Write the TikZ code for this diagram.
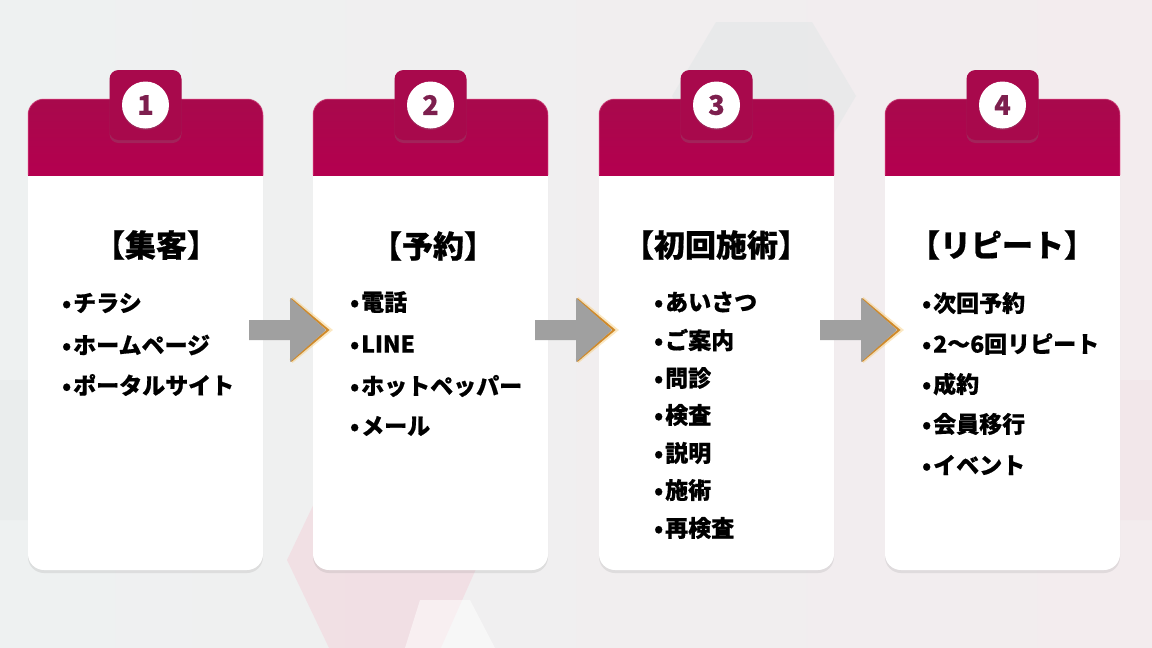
\documentclass[tikz,border=0pt]{standalone}
\usepackage{fontspec}
\newfontfamily\jp{Noto Sans CJK JP}[BoldFeatures={FakeBold=0.6}]
\usetikzlibrary{shadows,calc}
\definecolor{bgA}{HTML}{EEF1F1}
\definecolor{bgB}{HTML}{F3ECEE}
\definecolor{crim}{HTML}{A8094C}
\definecolor{crimL}{HTML}{B4004F}
\definecolor{numc}{HTML}{7D1F4E}
\definecolor{glow}{HTML}{EE5C95}
\definecolor{arrg}{HTML}{A0A0A0}
\definecolor{arro}{HTML}{D08A2A}
\definecolor{arry}{HTML}{F5C76A}
\definecolor{hexg}{HTML}{E3E7E8}
\definecolor{hexp}{HTML}{F2DCE2}
\newcommand{\bul}{\makebox[13pt][c]{•}}
\tikzset{
  cardbody/.style={fill=white, rounded corners=16pt,
    drop shadow={opacity=0.16, shadow xshift=0pt, shadow yshift=-3pt}},
  headfill/.style={top color=crim, bottom color=crimL},
  tabbox/.style={fill=crim, rounded corners=9pt,
    drop shadow={opacity=0.25, shadow xshift=0pt, shadow yshift=-3pt}},
  numdisc/.style={circle, fill=white, minimum size=47pt, inner sep=0pt,
    text=numc, font=\jp\bfseries\fontsize{27}{27}\selectfont,
    drop shadow={opacity=0.25, shadow xshift=0pt, shadow yshift=-1.5pt}},
  ttl/.style={inner sep=0pt, font=\jp\bfseries\fontsize{31}{31}\selectfont, text=black},
  itm/.style={inner sep=0pt, anchor=west, font=\jp\bfseries\fontsize{23}{23}\selectfont, text=black},
  arrbody/.style={fill=arrg},
  arredge/.style={draw=arro, line width=2pt, line join=miter},
  arrhalo/.style={draw=arry, line width=5pt, opacity=0.4, line join=miter}
}
\newcommand{\flowcard}[3]{% #1 name, #2 left x, #3 number
  \path[cardbody] (#2,99) rectangle ++(235,471);
  \begin{scope}
    \clip[rounded corners=16pt] (#2,99) rectangle ++(235,471);
    \fill[headfill] (#2,99) rectangle ++(235,76);
  \end{scope}
  \draw[glow, line width=1pt, opacity=0.5, rounded corners=16pt]
    (#2,175) -- (#2,99) -- ++(235,0) -- ++(0,76);
  \coordinate (#1) at ($(#2,105)+(117.5,0)$);
  \path[tabbox] ($(#1)+(-36,-35)$) rectangle ($(#1)+(36,35)$);
  \node[numdisc] (#1n) at (#1) {#3};
}
\newcommand{\flowarrow}[2]{% #1 name, #2 shaft start x
  \coordinate (#1) at (#2,330);
  \draw[arrhalo] ($(#1)+(42,-31)$) -- ($(#1)+(80,0)$) -- ($(#1)+(42,31)$);
  \draw[arredge] ($(#1)+(42,-31)$) -- ($(#1)+(79,0)$) -- ($(#1)+(42,31)$);
  \fill[arrbody] ($(#1)+(0,-10)$) -- ($(#1)+(41,-10)$) -- ($(#1)+(41,-32)$)
    -- ($(#1)+(77,0)$) -- ($(#1)+(41,32)$) -- ($(#1)+(41,10)$) -- ($(#1)+(0,10)$) -- cycle;
}
\begin{document}
\begin{tikzpicture}[x=1pt,y=-1pt]
\useasboundingbox (0,0) rectangle (1152,648);
% background
\shade[left color=bgA, right color=bgB] (0,0) rectangle (1152,648);
\fill[hexg, opacity=0.6] (716,22) -- (812,22) -- (856,96) -- (812,170) -- (716,170) -- (672,96) -- cycle;
\fill[hexg, opacity=0.35] (0,380) -- (60,380) -- (95,450) -- (60,520) -- (0,520) -- cycle;
\fill[hexp, opacity=0.8] (330,470) -- (440,470) -- (480,560) -- (440,650) -- (330,650) -- (287,560) -- cycle;
\fill[white, opacity=0.5] (420,600) -- (470,600) -- (495,648) -- (405,648) -- cycle;
\fill[hexp, opacity=0.3] (1040,380) -- (1152,380) -- (1152,520) -- (1080,520) -- cycle;

% cards
\flowcard{c1}{28}{1}
\flowcard{c2}{313}{2}
\flowcard{c3}{599}{3}
\flowcard{c4}{885}{4}

% arrows between cards
\flowarrow{a1}{249}
\flowarrow{a2}{535}
\flowarrow{a3}{820}

% card 1
\node[ttl] (t1) at (156,245) {【集客】};
\node[itm] (i11) at (60,303) {\bul チラシ};
\node[itm] (i12) at (60,345) {\bul ホームページ};
\node[itm] (i13) at (60,385) {\bul ポータルサイト};
% card 2
\node[ttl] (t2) at (433,246) {【予約】};
\node[itm] (i21) at (348,302) {\bul 電話};
\node[itm] (i22) at (348,344) {\bul LINE};
\node[itm] (i23) at (348,386) {\bul ホットペッパー};
\node[itm] (i24) at (348,426) {\bul メール};
% card 3
\node[ttl] (t3) at (716,245) {【初回施術】};
\node[itm] (i31) at (652,302) {\bul あいさつ};
\node[itm] (i32) at (652,340) {\bul ご案内};
\node[itm] (i33) at (652,378) {\bul 問診};
\node[itm] (i34) at (652,415) {\bul 検査};
\node[itm] (i35) at (652,453) {\bul 説明};
\node[itm] (i36) at (652,490) {\bul 施術};
\node[itm] (i37) at (652,528) {\bul 再検査};
% card 4
\node[ttl] (t4) at (1002,245) {【リピート】};
\node[itm] (i41) at (920,303) {\bul 次回予約};
\node[itm] (i42) at (920,344) {\bul 2〜6回リピート};
\node[itm] (i43) at (920,384) {\bul 成約};
\node[itm] (i44) at (920,424) {\bul 会員移行};
\node[itm] (i45) at (920,465) {\bul イベント};
\end{tikzpicture}
\end{document}
